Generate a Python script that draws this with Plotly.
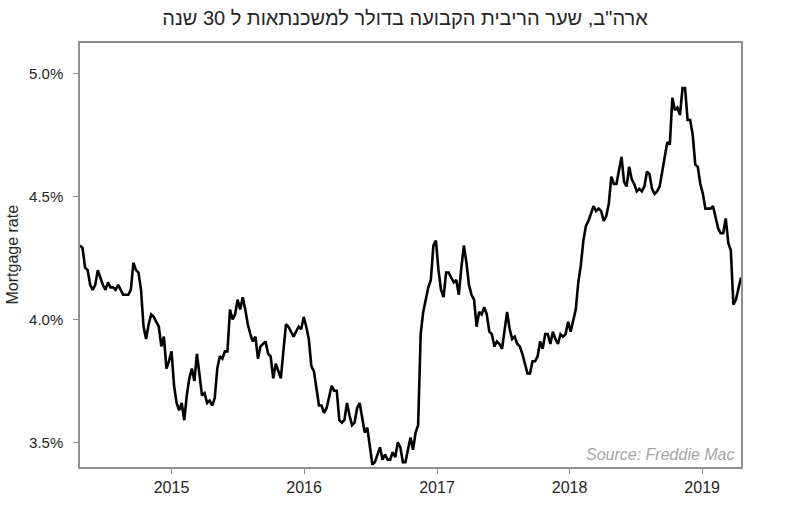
import pandas as pd
import plotly.graph_objects as go

# Weekly 30-year fixed mortgage rate (%), from 2014-04-24 weekly to 2019-04-18
rates_2014 = [4.30, 4.29, 4.21, 4.20, 4.14, 4.12, 4.14, 4.20, 4.17, 4.14, 4.12, 4.15, 4.13, 4.13,
              4.12, 4.14, 4.12, 4.10, 4.10, 4.10, 4.12, 4.23, 4.20, 4.19, 4.12, 3.97, 3.92, 3.98,
              4.02, 4.01, 3.99, 3.97, 3.89, 3.93, 3.80, 3.83, 3.87]
rates_2015 = [3.73, 3.66, 3.63, 3.66, 3.59, 3.69, 3.76, 3.80, 3.75, 3.86, 3.78, 3.69, 3.70, 3.66,
              3.67, 3.65, 3.68, 3.80, 3.85, 3.84, 3.87, 3.87, 4.04, 4.00, 4.02, 4.08, 4.04, 4.09,
              4.04, 3.98, 3.94, 3.91, 3.93, 3.84, 3.89, 3.90, 3.91, 3.86, 3.85, 3.76, 3.82, 3.79,
              3.76, 3.87, 3.98, 3.97, 3.95, 3.93, 3.95, 3.97, 3.96, 4.01]
rates_2016 = [3.97, 3.92, 3.81, 3.79, 3.72, 3.65, 3.65, 3.62, 3.64, 3.68, 3.73, 3.71, 3.71, 3.59,
              3.58, 3.59, 3.66, 3.61, 3.57, 3.58, 3.64, 3.66, 3.60, 3.54, 3.56, 3.48, 3.41, 3.42,
              3.45, 3.48, 3.43, 3.45, 3.43, 3.43, 3.46, 3.44, 3.50, 3.48, 3.42, 3.42, 3.47, 3.52,
              3.47, 3.54, 3.57, 3.94, 4.03, 4.08, 4.13, 4.16, 4.30, 4.32]
rates_2017 = [4.20, 4.12, 4.09, 4.19, 4.19, 4.17, 4.15, 4.16, 4.10, 4.21, 4.30, 4.23, 4.14, 4.10,
              4.08, 3.97, 4.03, 4.02, 4.05, 4.02, 3.95, 3.94, 3.89, 3.91, 3.90, 3.88, 3.96, 4.03,
              3.96, 3.92, 3.93, 3.90, 3.89, 3.86, 3.82, 3.78, 3.78, 3.83, 3.83, 3.85, 3.91, 3.88,
              3.94, 3.94, 3.90, 3.95, 3.92, 3.90, 3.94, 3.93, 3.94, 3.99]
rates_2018 = [3.95, 3.99, 4.04, 4.15, 4.22, 4.32, 4.38, 4.40, 4.43, 4.46, 4.44, 4.45, 4.44, 4.40,
              4.42, 4.47, 4.58, 4.55, 4.55, 4.61, 4.66, 4.56, 4.54, 4.62, 4.57, 4.55, 4.52, 4.53,
              4.52, 4.54, 4.60, 4.59, 4.53, 4.51, 4.52, 4.54, 4.60, 4.65, 4.72, 4.71, 4.90, 4.85,
              4.86, 4.83, 4.94, 4.94, 4.81, 4.81, 4.75, 4.63, 4.62, 4.55]
rates_2019 = [4.51, 4.45, 4.45, 4.45, 4.46, 4.41, 4.37, 4.35, 4.35, 4.41, 4.31, 4.28, 4.06, 4.08,
              4.12, 4.17]

rates = rates_2014 + rates_2015 + rates_2016 + rates_2017 + rates_2018 + rates_2019
dates = pd.date_range(start="2014-04-24", periods=len(rates), freq="7D")

y_ticks = [3.5, 4.0, 4.5, 5.0]
y_tick_labels = ["3.5%", "4.0%", "4.5%", "5.0%"]
x_ticks = ["2015-01-01", "2016-01-01", "2017-01-01", "2018-01-01", "2019-01-01"]
x_tick_labels = ["2015", "2016", "2017", "2018", "2019"]

title_text = 'ארה"ב, שער הריבית הקבועה בדולר למשכנתאות ל 30 שנה'
y_title = "Mortgage rate"
source_text = "Source: Freddie Mac"

frame = "#8f8f8f"
text_col = "#262626"
font_family = "Liberation Sans, Arial, sans-serif"

fig = go.Figure()
fig.add_trace(go.Scatter(x=dates, y=rates, mode="lines",
                         line=dict(color="#000000", width=2.6), hoverinfo="x+y"))

W, H = 805, 516
L, R, T, B = 80, 741, 43, 467
fig.update_layout(
    width=W, height=H,
    margin=dict(l=L, r=W - R, t=T, b=H - B),
    paper_bgcolor="white", plot_bgcolor="white",
    showlegend=False,
    font=dict(family=font_family, color=text_col, size=15),
    title=dict(text=title_text, x=405 / W, xref="container", xanchor="center",
               y=1 - 17.5 / H, yref="container", yanchor="middle",
               font=dict(size=20, color=text_col, family=font_family)),
    xaxis=dict(range=["2014-04-24", "2019-04-18"], tickmode="array",
               tickvals=x_ticks, ticktext=x_tick_labels,
               showgrid=False, zeroline=False, showline=True, linecolor=frame,
               linewidth=1.5, mirror=True, ticks="outside", ticklen=5,
               tickcolor=frame, tickwidth=1, tickfont=dict(size=16),
               automargin=False),
    yaxis=dict(range=[3.400, 5.123], tickmode="array",
               tickvals=y_ticks, ticktext=y_tick_labels,
               showgrid=False, zeroline=False, showline=True, linecolor=frame,
               linewidth=1.5, mirror=True, ticks="outside", ticklen=5,
               tickcolor=frame, tickwidth=1, tickfont=dict(size=15),
               ticklabelstandoff=7, automargin=False),
    annotations=[
        dict(text=source_text, xref="paper", yref="paper", x=0.994, y=0.004,
             xanchor="right", yanchor="bottom", showarrow=False,
             font=dict(size=16, color="#a6a6a6", family=font_family, style="italic")),
        dict(text=y_title, xref="paper", yref="paper", x=(11.5 - L) / (R - L), y=0.5,
             xanchor="center", yanchor="middle", textangle=-90, showarrow=False,
             font=dict(size=16, color=text_col, family=font_family)),
    ],
)

fig.write_html("out.html", config={"displayModeBar": False},
               post_script="document.body.style.margin='0px';")
